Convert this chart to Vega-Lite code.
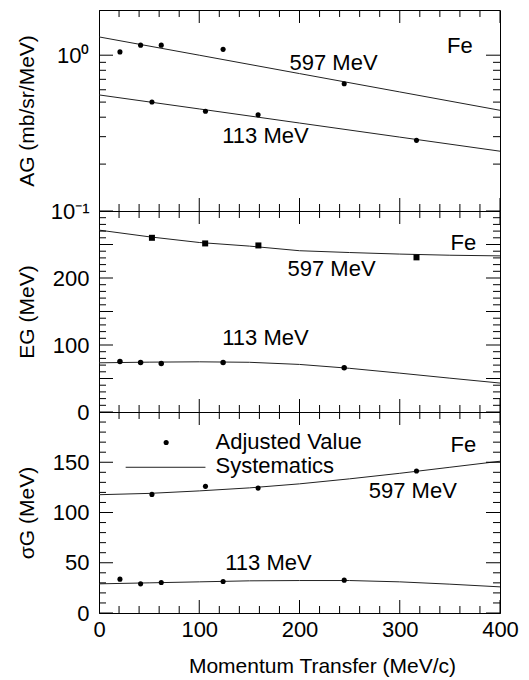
{
  "$schema": "https://vega.github.io/schema/vega-lite/v6.json",
  "padding": {"left": 15, "top": 9, "right": 5, "bottom": 5},
  "spacing": 0,
  "bounds": "flush",
  "config": {
    "font": "Liberation Sans",
    "view": {"stroke": "black", "strokeWidth": 1},
    "axis": {
      "grid": false,
      "domainColor": "black",
      "labelColor": "black",
      "titleColor": "black",
      "labelFont": "Liberation Sans",
      "titleFont": "Liberation Sans",
      "labelFontSize": 22,
      "titleFontSize": 21,
      "titleFontWeight": "normal",
      "labelFlush": false,
      "labelOverlap": false
    },
    "text": {"font": "Liberation Sans", "fontSize": 22, "color": "black"},
    "tick": {"color": "black", "thickness": 1, "opacity": 1}
  },
  "datasets": {
    "A_tx": [
      {"q": 0, "v": 0.1, "k": "major"}, {"q": 0, "v": 1.95, "k": "major"},
      {"q": 20, "v": 0.1, "k": "minor"}, {"q": 20, "v": 1.95, "k": "minor"},
      {"q": 40, "v": 0.1, "k": "minor"}, {"q": 40, "v": 1.95, "k": "minor"},
      {"q": 60, "v": 0.1, "k": "minor"}, {"q": 60, "v": 1.95, "k": "minor"},
      {"q": 80, "v": 0.1, "k": "minor"}, {"q": 80, "v": 1.95, "k": "minor"},
      {"q": 100, "v": 0.1, "k": "major"}, {"q": 100, "v": 1.95, "k": "major"},
      {"q": 120, "v": 0.1, "k": "minor"}, {"q": 120, "v": 1.95, "k": "minor"},
      {"q": 140, "v": 0.1, "k": "minor"}, {"q": 140, "v": 1.95, "k": "minor"},
      {"q": 160, "v": 0.1, "k": "minor"}, {"q": 160, "v": 1.95, "k": "minor"},
      {"q": 180, "v": 0.1, "k": "minor"}, {"q": 180, "v": 1.95, "k": "minor"},
      {"q": 200, "v": 0.1, "k": "major"}, {"q": 200, "v": 1.95, "k": "major"},
      {"q": 220, "v": 0.1, "k": "minor"}, {"q": 220, "v": 1.95, "k": "minor"},
      {"q": 240, "v": 0.1, "k": "minor"}, {"q": 240, "v": 1.95, "k": "minor"},
      {"q": 260, "v": 0.1, "k": "minor"}, {"q": 260, "v": 1.95, "k": "minor"},
      {"q": 280, "v": 0.1, "k": "minor"}, {"q": 280, "v": 1.95, "k": "minor"},
      {"q": 300, "v": 0.1, "k": "major"}, {"q": 300, "v": 1.95, "k": "major"},
      {"q": 320, "v": 0.1, "k": "minor"}, {"q": 320, "v": 1.95, "k": "minor"},
      {"q": 340, "v": 0.1, "k": "minor"}, {"q": 340, "v": 1.95, "k": "minor"},
      {"q": 360, "v": 0.1, "k": "minor"}, {"q": 360, "v": 1.95, "k": "minor"},
      {"q": 380, "v": 0.1, "k": "minor"}, {"q": 380, "v": 1.95, "k": "minor"},
      {"q": 400, "v": 0.1, "k": "major"}, {"q": 400, "v": 1.95, "k": "major"}
    ],
    "A_ty": [
      {"q": 0, "v": 0.1, "k": "major"}, {"q": 400, "v": 0.1, "k": "major"},
      {"q": 0, "v": 0.2, "k": "minor"}, {"q": 400, "v": 0.2, "k": "minor"},
      {"q": 0, "v": 0.3, "k": "minor"}, {"q": 400, "v": 0.3, "k": "minor"},
      {"q": 0, "v": 0.4, "k": "minor"}, {"q": 400, "v": 0.4, "k": "minor"},
      {"q": 0, "v": 0.5, "k": "minor"}, {"q": 400, "v": 0.5, "k": "minor"},
      {"q": 0, "v": 0.6, "k": "minor"}, {"q": 400, "v": 0.6, "k": "minor"},
      {"q": 0, "v": 0.7, "k": "minor"}, {"q": 400, "v": 0.7, "k": "minor"},
      {"q": 0, "v": 0.8, "k": "minor"}, {"q": 400, "v": 0.8, "k": "minor"},
      {"q": 0, "v": 0.9, "k": "minor"}, {"q": 400, "v": 0.9, "k": "minor"},
      {"q": 0, "v": 1, "k": "major"}, {"q": 400, "v": 1, "k": "major"}
    ],
    "E_tx": [
      {"q": 0, "v": 0, "k": "major"}, {"q": 0, "v": 300, "k": "major"},
      {"q": 20, "v": 0, "k": "minor"}, {"q": 20, "v": 300, "k": "minor"},
      {"q": 40, "v": 0, "k": "minor"}, {"q": 40, "v": 300, "k": "minor"},
      {"q": 60, "v": 0, "k": "minor"}, {"q": 60, "v": 300, "k": "minor"},
      {"q": 80, "v": 0, "k": "minor"}, {"q": 80, "v": 300, "k": "minor"},
      {"q": 100, "v": 0, "k": "major"}, {"q": 100, "v": 300, "k": "major"},
      {"q": 120, "v": 0, "k": "minor"}, {"q": 120, "v": 300, "k": "minor"},
      {"q": 140, "v": 0, "k": "minor"}, {"q": 140, "v": 300, "k": "minor"},
      {"q": 160, "v": 0, "k": "minor"}, {"q": 160, "v": 300, "k": "minor"},
      {"q": 180, "v": 0, "k": "minor"}, {"q": 180, "v": 300, "k": "minor"},
      {"q": 200, "v": 0, "k": "major"}, {"q": 200, "v": 300, "k": "major"},
      {"q": 220, "v": 0, "k": "minor"}, {"q": 220, "v": 300, "k": "minor"},
      {"q": 240, "v": 0, "k": "minor"}, {"q": 240, "v": 300, "k": "minor"},
      {"q": 260, "v": 0, "k": "minor"}, {"q": 260, "v": 300, "k": "minor"},
      {"q": 280, "v": 0, "k": "minor"}, {"q": 280, "v": 300, "k": "minor"},
      {"q": 300, "v": 0, "k": "major"}, {"q": 300, "v": 300, "k": "major"},
      {"q": 320, "v": 0, "k": "minor"}, {"q": 320, "v": 300, "k": "minor"},
      {"q": 340, "v": 0, "k": "minor"}, {"q": 340, "v": 300, "k": "minor"},
      {"q": 360, "v": 0, "k": "minor"}, {"q": 360, "v": 300, "k": "minor"},
      {"q": 380, "v": 0, "k": "minor"}, {"q": 380, "v": 300, "k": "minor"},
      {"q": 400, "v": 0, "k": "major"}, {"q": 400, "v": 300, "k": "major"}
    ],
    "E_ty": [
      {"q": 0, "v": 0, "k": "major"}, {"q": 400, "v": 0, "k": "major"},
      {"q": 0, "v": 10, "k": "minor"}, {"q": 400, "v": 10, "k": "minor"},
      {"q": 0, "v": 20, "k": "minor"}, {"q": 400, "v": 20, "k": "minor"},
      {"q": 0, "v": 30, "k": "minor"}, {"q": 400, "v": 30, "k": "minor"},
      {"q": 0, "v": 40, "k": "minor"}, {"q": 400, "v": 40, "k": "minor"},
      {"q": 0, "v": 50, "k": "major"}, {"q": 400, "v": 50, "k": "major"},
      {"q": 0, "v": 60, "k": "minor"}, {"q": 400, "v": 60, "k": "minor"},
      {"q": 0, "v": 70, "k": "minor"}, {"q": 400, "v": 70, "k": "minor"},
      {"q": 0, "v": 80, "k": "minor"}, {"q": 400, "v": 80, "k": "minor"},
      {"q": 0, "v": 90, "k": "minor"}, {"q": 400, "v": 90, "k": "minor"},
      {"q": 0, "v": 100, "k": "major"}, {"q": 400, "v": 100, "k": "major"},
      {"q": 0, "v": 110, "k": "minor"}, {"q": 400, "v": 110, "k": "minor"},
      {"q": 0, "v": 120, "k": "minor"}, {"q": 400, "v": 120, "k": "minor"},
      {"q": 0, "v": 130, "k": "minor"}, {"q": 400, "v": 130, "k": "minor"},
      {"q": 0, "v": 140, "k": "minor"}, {"q": 400, "v": 140, "k": "minor"},
      {"q": 0, "v": 150, "k": "major"}, {"q": 400, "v": 150, "k": "major"},
      {"q": 0, "v": 160, "k": "minor"}, {"q": 400, "v": 160, "k": "minor"},
      {"q": 0, "v": 170, "k": "minor"}, {"q": 400, "v": 170, "k": "minor"},
      {"q": 0, "v": 180, "k": "minor"}, {"q": 400, "v": 180, "k": "minor"},
      {"q": 0, "v": 190, "k": "minor"}, {"q": 400, "v": 190, "k": "minor"},
      {"q": 0, "v": 200, "k": "major"}, {"q": 400, "v": 200, "k": "major"},
      {"q": 0, "v": 210, "k": "minor"}, {"q": 400, "v": 210, "k": "minor"},
      {"q": 0, "v": 220, "k": "minor"}, {"q": 400, "v": 220, "k": "minor"},
      {"q": 0, "v": 230, "k": "minor"}, {"q": 400, "v": 230, "k": "minor"},
      {"q": 0, "v": 240, "k": "minor"}, {"q": 400, "v": 240, "k": "minor"},
      {"q": 0, "v": 250, "k": "major"}, {"q": 400, "v": 250, "k": "major"},
      {"q": 0, "v": 260, "k": "minor"}, {"q": 400, "v": 260, "k": "minor"},
      {"q": 0, "v": 270, "k": "minor"}, {"q": 400, "v": 270, "k": "minor"},
      {"q": 0, "v": 280, "k": "minor"}, {"q": 400, "v": 280, "k": "minor"},
      {"q": 0, "v": 290, "k": "minor"}, {"q": 400, "v": 290, "k": "minor"},
      {"q": 0, "v": 300, "k": "major"}, {"q": 400, "v": 300, "k": "major"}
    ],
    "S_tx": [
      {"q": 0, "v": 0, "k": "major"}, {"q": 0, "v": 200, "k": "major"},
      {"q": 20, "v": 0, "k": "minor"}, {"q": 20, "v": 200, "k": "minor"},
      {"q": 40, "v": 0, "k": "minor"}, {"q": 40, "v": 200, "k": "minor"},
      {"q": 60, "v": 0, "k": "minor"}, {"q": 60, "v": 200, "k": "minor"},
      {"q": 80, "v": 0, "k": "minor"}, {"q": 80, "v": 200, "k": "minor"},
      {"q": 100, "v": 0, "k": "major"}, {"q": 100, "v": 200, "k": "major"},
      {"q": 120, "v": 0, "k": "minor"}, {"q": 120, "v": 200, "k": "minor"},
      {"q": 140, "v": 0, "k": "minor"}, {"q": 140, "v": 200, "k": "minor"},
      {"q": 160, "v": 0, "k": "minor"}, {"q": 160, "v": 200, "k": "minor"},
      {"q": 180, "v": 0, "k": "minor"}, {"q": 180, "v": 200, "k": "minor"},
      {"q": 200, "v": 0, "k": "major"}, {"q": 200, "v": 200, "k": "major"},
      {"q": 220, "v": 0, "k": "minor"}, {"q": 220, "v": 200, "k": "minor"},
      {"q": 240, "v": 0, "k": "minor"}, {"q": 240, "v": 200, "k": "minor"},
      {"q": 260, "v": 0, "k": "minor"}, {"q": 260, "v": 200, "k": "minor"},
      {"q": 280, "v": 0, "k": "minor"}, {"q": 280, "v": 200, "k": "minor"},
      {"q": 300, "v": 0, "k": "major"}, {"q": 300, "v": 200, "k": "major"},
      {"q": 320, "v": 0, "k": "minor"}, {"q": 320, "v": 200, "k": "minor"},
      {"q": 340, "v": 0, "k": "minor"}, {"q": 340, "v": 200, "k": "minor"},
      {"q": 360, "v": 0, "k": "minor"}, {"q": 360, "v": 200, "k": "minor"},
      {"q": 380, "v": 0, "k": "minor"}, {"q": 380, "v": 200, "k": "minor"},
      {"q": 400, "v": 0, "k": "major"}, {"q": 400, "v": 200, "k": "major"}
    ],
    "S_ty": [
      {"q": 0, "v": 0, "k": "major"}, {"q": 400, "v": 0, "k": "major"},
      {"q": 0, "v": 10, "k": "minor"}, {"q": 400, "v": 10, "k": "minor"},
      {"q": 0, "v": 20, "k": "minor"}, {"q": 400, "v": 20, "k": "minor"},
      {"q": 0, "v": 30, "k": "minor"}, {"q": 400, "v": 30, "k": "minor"},
      {"q": 0, "v": 40, "k": "minor"}, {"q": 400, "v": 40, "k": "minor"},
      {"q": 0, "v": 50, "k": "major"}, {"q": 400, "v": 50, "k": "major"},
      {"q": 0, "v": 60, "k": "minor"}, {"q": 400, "v": 60, "k": "minor"},
      {"q": 0, "v": 70, "k": "minor"}, {"q": 400, "v": 70, "k": "minor"},
      {"q": 0, "v": 80, "k": "minor"}, {"q": 400, "v": 80, "k": "minor"},
      {"q": 0, "v": 90, "k": "minor"}, {"q": 400, "v": 90, "k": "minor"},
      {"q": 0, "v": 100, "k": "major"}, {"q": 400, "v": 100, "k": "major"},
      {"q": 0, "v": 110, "k": "minor"}, {"q": 400, "v": 110, "k": "minor"},
      {"q": 0, "v": 120, "k": "minor"}, {"q": 400, "v": 120, "k": "minor"},
      {"q": 0, "v": 130, "k": "minor"}, {"q": 400, "v": 130, "k": "minor"},
      {"q": 0, "v": 140, "k": "minor"}, {"q": 400, "v": 140, "k": "minor"},
      {"q": 0, "v": 150, "k": "major"}, {"q": 400, "v": 150, "k": "major"},
      {"q": 0, "v": 160, "k": "minor"}, {"q": 400, "v": 160, "k": "minor"},
      {"q": 0, "v": 170, "k": "minor"}, {"q": 400, "v": 170, "k": "minor"},
      {"q": 0, "v": 180, "k": "minor"}, {"q": 400, "v": 180, "k": "minor"},
      {"q": 0, "v": 190, "k": "minor"}, {"q": 400, "v": 190, "k": "minor"},
      {"q": 0, "v": 200, "k": "major"}, {"q": 400, "v": 200, "k": "major"}
    ],
    "A_pts": [
      {"q": 20.9, "v": 1.05, "e": "597"}, {"q": 41.5, "v": 1.16, "e": "597"}, {"q": 62.1, "v": 1.16, "e": "597"}, {"q": 123.8, "v": 1.09, "e": "597"}, {"q": 244.6, "v": 0.655, "e": "597"},
      {"q": 52.8, "v": 0.501, "e": "113"}, {"q": 106.2, "v": 0.437, "e": "113"}, {"q": 158.7, "v": 0.414, "e": "113"}, {"q": 316.7, "v": 0.284, "e": "113"}
    ],
    "A_fit": [
      {"q": 0, "v": 1.31, "e": "597"}, {"q": 100, "v": 1.0, "e": "597"}, {"q": 200, "v": 0.762, "e": "597"}, {"q": 300, "v": 0.581, "e": "597"}, {"q": 400, "v": 0.443, "e": "597"},
      {"q": 0, "v": 0.556, "e": "113"}, {"q": 100, "v": 0.452, "e": "113"}, {"q": 200, "v": 0.367, "e": "113"}, {"q": 300, "v": 0.298, "e": "113"}, {"q": 400, "v": 0.242, "e": "113"}
    ],
    "A_lab": [
      {"q": 234, "v": 0.897, "t": "597 MeV"}, {"q": 166, "v": 0.303, "t": "113 MeV"}, {"q": 360, "v": 1.148, "t": "Fe"}
    ],
    "E_pts": [
      {"q": 52.8, "v": 260, "e": "597"}, {"q": 105.9, "v": 251.6, "e": "597"}, {"q": 159, "v": 248.6, "e": "597"}, {"q": 316.7, "v": 230.8, "e": "597"},
      {"q": 20.9, "v": 75.4, "e": "113"}, {"q": 41.5, "v": 73.9, "e": "113"}, {"q": 62.1, "v": 72.5, "e": "113"}, {"q": 123.8, "v": 73.9, "e": "113"}, {"q": 244.6, "v": 66, "e": "113"}
    ],
    "E_fit": [
      {"q": 0, "v": 271.5, "e": "597"}, {"q": 50, "v": 261.5, "e": "597"}, {"q": 100, "v": 253, "e": "597"}, {"q": 150, "v": 247.6, "e": "597"}, {"q": 200, "v": 240.7, "e": "597"}, {"q": 250, "v": 238, "e": "597"}, {"q": 300, "v": 235.7, "e": "597"}, {"q": 350, "v": 234, "e": "597"}, {"q": 400, "v": 233, "e": "597"},
      {"q": 0, "v": 73.4, "e": "113"}, {"q": 50, "v": 74.4, "e": "113"}, {"q": 100, "v": 74.9, "e": "113"}, {"q": 150, "v": 74.2, "e": "113"}, {"q": 200, "v": 71, "e": "113"}, {"q": 250, "v": 65.2, "e": "113"}, {"q": 300, "v": 58, "e": "113"}, {"q": 350, "v": 50.5, "e": "113"}, {"q": 400, "v": 43.2, "e": "113"}
    ],
    "E_lab": [
      {"q": 232, "v": 213.4, "t": "597 MeV"}, {"q": 166, "v": 110.7, "t": "113 MeV"}, {"q": 363.5, "v": 251.6, "t": "Fe"}
    ],
    "S_pts": [
      {"q": 52.8, "v": 118, "e": "597"}, {"q": 106.2, "v": 126, "e": "597"}, {"q": 158.7, "v": 124.3, "e": "597"}, {"q": 316.7, "v": 141.3, "e": "597"},
      {"q": 20.9, "v": 33.7, "e": "113"}, {"q": 41.5, "v": 29, "e": "113"}, {"q": 62.1, "v": 30.3, "e": "113"}, {"q": 123.8, "v": 31.3, "e": "113"}, {"q": 244.6, "v": 32.7, "e": "113"},
      {"q": 67, "v": 169.7, "e": "legend"}
    ],
    "S_fit": [
      {"q": 0, "v": 117.7, "e": "597"}, {"q": 50, "v": 119, "e": "597"}, {"q": 100, "v": 121.5, "e": "597"}, {"q": 150, "v": 124.5, "e": "597"}, {"q": 200, "v": 128.5, "e": "597"}, {"q": 250, "v": 133.5, "e": "597"}, {"q": 300, "v": 139, "e": "597"}, {"q": 350, "v": 145, "e": "597"}, {"q": 400, "v": 151, "e": "597"},
      {"q": 0, "v": 29, "e": "113"}, {"q": 50, "v": 30, "e": "113"}, {"q": 100, "v": 31, "e": "113"}, {"q": 150, "v": 32, "e": "113"}, {"q": 200, "v": 32.3, "e": "113"}, {"q": 250, "v": 32.3, "e": "113"}, {"q": 300, "v": 31, "e": "113"}, {"q": 350, "v": 28.7, "e": "113"}, {"q": 400, "v": 26, "e": "113"},
      {"q": 26.6, "v": 145, "e": "legend"}, {"q": 106.2, "v": 145, "e": "legend"}
    ],
    "S_lab": [
      {"q": 313, "v": 121.7, "t": "597 MeV"}, {"q": 169, "v": 49.3, "t": "113 MeV"}, {"q": 363.5, "v": 166.7, "t": "Fe"}
    ],
    "S_leg": [
      {"q": 116.2, "v": 169.7, "t": "Adjusted Value"}, {"q": 116.2, "v": 146.7, "t": "Systematics"}
    ]
  },
  "vconcat": [
    {
      "width": 401, "height": 201,
      "layer": [
        {
          "data": {"name": "A_fit"},
          "mark": {"type": "line", "color": "#222", "strokeWidth": 1},
          "encoding": {
            "x": {"field": "q", "type": "quantitative", "scale": {"domain": [0, 400], "nice": false},
              "axis": {"orient": "bottom", "ticks": false, "tickSize": 0, "labels": false, "title": null}},
            "y": {"field": "v", "type": "quantitative", "scale": {"type": "log", "domain": [0.1, 1.95], "nice": false},
              "axis": {"orient": "left", "values": [0.1, 1], "ticks": false, "tickSize": 0, "title": "AG (mb/sr/MeV)",
                "labelExpr": "datum.value === 1 ? '10⁰' : '10⁻¹'",
                "labelPadding": 10, "titleX": -62, "titleBaseline": "bottom"}},
            "detail": {"field": "e"},
            "order": {"field": "q", "type": "quantitative"}
          }
        },
        {
          "data": {"name": "A_pts"},
          "mark": {"type": "circle", "color": "black", "opacity": 1, "size": 26},
          "encoding": {"x": {"field": "q", "type": "quantitative"}, "y": {"field": "v", "type": "quantitative"}}
        },
        {"data": {"name": "A_tx"}, "transform": [{"filter": "datum.k === 'major'"}],
          "mark": {"type": "tick", "orient": "vertical", "clip": true},
          "encoding": {"x": {"field": "q", "type": "quantitative"}, "y": {"field": "v", "type": "quantitative"}, "size": {"value": 26}}},
        {"data": {"name": "A_tx"}, "transform": [{"filter": "datum.k === 'minor'"}],
          "mark": {"type": "tick", "orient": "vertical", "clip": true},
          "encoding": {"x": {"field": "q", "type": "quantitative"}, "y": {"field": "v", "type": "quantitative"}, "size": {"value": 14}}},
        {"data": {"name": "A_ty"}, "transform": [{"filter": "datum.k === 'major'"}],
          "mark": {"type": "tick", "orient": "horizontal", "clip": true},
          "encoding": {"x": {"field": "q", "type": "quantitative"}, "y": {"field": "v", "type": "quantitative"}, "size": {"value": 28}}},
        {"data": {"name": "A_ty"}, "transform": [{"filter": "datum.k === 'minor'"}],
          "mark": {"type": "tick", "orient": "horizontal", "clip": true},
          "encoding": {"x": {"field": "q", "type": "quantitative"}, "y": {"field": "v", "type": "quantitative"}, "size": {"value": 14}}},
        {
          "data": {"name": "A_lab"},
          "mark": {"type": "text", "align": "center", "baseline": "middle"},
          "encoding": {"x": {"field": "q", "type": "quantitative"}, "y": {"field": "v", "type": "quantitative"}, "text": {"field": "t"}}
        }
      ]
    },
    {
      "width": 401, "height": 201,
      "layer": [
        {
          "data": {"name": "E_fit"},
          "mark": {"type": "line", "color": "#222", "strokeWidth": 1},
          "encoding": {
            "x": {"field": "q", "type": "quantitative", "scale": {"domain": [0, 400], "nice": false},
              "axis": {"orient": "bottom", "ticks": false, "tickSize": 0, "labels": false, "title": null}},
            "y": {"field": "v", "type": "quantitative", "scale": {"domain": [0, 300], "nice": false},
              "axis": {"orient": "left", "values": [0, 100, 200], "ticks": false, "tickSize": 0, "title": "EG (MeV)",
                "labelPadding": 10, "titleX": -62, "titleBaseline": "bottom"}},
            "detail": {"field": "e"},
            "order": {"field": "q", "type": "quantitative"}
          }
        },
        {
          "data": {"name": "E_pts"},
          "mark": {"type": "point", "filled": true, "color": "black", "opacity": 1},
          "encoding": {
            "x": {"field": "q", "type": "quantitative"},
            "y": {"field": "v", "type": "quantitative"},
            "shape": {"field": "e", "type": "nominal", "scale": {"domain": ["597", "113"], "range": ["square", "circle"]}, "legend": null},
            "size": {"field": "e", "type": "nominal", "scale": {"domain": ["597", "113"], "range": [36, 30]}, "legend": null}
          }
        },
        {"data": {"name": "E_tx"}, "transform": [{"filter": "datum.k === 'major'"}],
          "mark": {"type": "tick", "orient": "vertical", "clip": true},
          "encoding": {"x": {"field": "q", "type": "quantitative"}, "y": {"field": "v", "type": "quantitative"}, "size": {"value": 26}}},
        {"data": {"name": "E_tx"}, "transform": [{"filter": "datum.k === 'minor'"}],
          "mark": {"type": "tick", "orient": "vertical", "clip": true},
          "encoding": {"x": {"field": "q", "type": "quantitative"}, "y": {"field": "v", "type": "quantitative"}, "size": {"value": 14}}},
        {"data": {"name": "E_ty"}, "transform": [{"filter": "datum.k === 'major'"}],
          "mark": {"type": "tick", "orient": "horizontal", "clip": true},
          "encoding": {"x": {"field": "q", "type": "quantitative"}, "y": {"field": "v", "type": "quantitative"}, "size": {"value": 28}}},
        {"data": {"name": "E_ty"}, "transform": [{"filter": "datum.k === 'minor'"}],
          "mark": {"type": "tick", "orient": "horizontal", "clip": true},
          "encoding": {"x": {"field": "q", "type": "quantitative"}, "y": {"field": "v", "type": "quantitative"}, "size": {"value": 14}}},
        {
          "data": {"name": "E_lab"},
          "mark": {"type": "text", "align": "center", "baseline": "middle"},
          "encoding": {"x": {"field": "q", "type": "quantitative"}, "y": {"field": "v", "type": "quantitative"}, "text": {"field": "t"}}
        }
      ]
    },
    {
      "width": 401, "height": 201,
      "layer": [
        {
          "data": {"name": "S_fit"},
          "mark": {"type": "line", "color": "#222", "strokeWidth": 1},
          "encoding": {
            "x": {"field": "q", "type": "quantitative", "scale": {"domain": [0, 400], "nice": false},
              "axis": {"orient": "bottom", "values": [0,100,200,300,400], "ticks": false, "tickSize": 0, "title": "Momentum Transfer (MeV/c)",
                "labelPadding": 6, "titleX": 223, "titleY": 59, "titleBaseline": "alphabetic"}},
            "y": {"field": "v", "type": "quantitative", "scale": {"domain": [0, 200], "nice": false},
              "axis": {"orient": "left", "values": [0, 50, 100, 150], "ticks": false, "tickSize": 0, "title": "σG (MeV)",
                "labelPadding": 10, "titleX": -62, "titleBaseline": "bottom"}},
            "detail": {"field": "e"},
            "order": {"field": "q", "type": "quantitative"}
          }
        },
        {
          "data": {"name": "S_pts"},
          "mark": {"type": "circle", "color": "black", "opacity": 1, "size": 26},
          "encoding": {"x": {"field": "q", "type": "quantitative"}, "y": {"field": "v", "type": "quantitative"}}
        },
        {"data": {"name": "S_tx"}, "transform": [{"filter": "datum.k === 'major'"}],
          "mark": {"type": "tick", "orient": "vertical", "clip": true},
          "encoding": {"x": {"field": "q", "type": "quantitative"}, "y": {"field": "v", "type": "quantitative"}, "size": {"value": 26}}},
        {"data": {"name": "S_tx"}, "transform": [{"filter": "datum.k === 'minor'"}],
          "mark": {"type": "tick", "orient": "vertical", "clip": true},
          "encoding": {"x": {"field": "q", "type": "quantitative"}, "y": {"field": "v", "type": "quantitative"}, "size": {"value": 14}}},
        {"data": {"name": "S_ty"}, "transform": [{"filter": "datum.k === 'major'"}],
          "mark": {"type": "tick", "orient": "horizontal", "clip": true},
          "encoding": {"x": {"field": "q", "type": "quantitative"}, "y": {"field": "v", "type": "quantitative"}, "size": {"value": 28}}},
        {"data": {"name": "S_ty"}, "transform": [{"filter": "datum.k === 'minor'"}],
          "mark": {"type": "tick", "orient": "horizontal", "clip": true},
          "encoding": {"x": {"field": "q", "type": "quantitative"}, "y": {"field": "v", "type": "quantitative"}, "size": {"value": 14}}},
        {
          "data": {"name": "S_lab"},
          "mark": {"type": "text", "align": "center", "baseline": "middle"},
          "encoding": {"x": {"field": "q", "type": "quantitative"}, "y": {"field": "v", "type": "quantitative"}, "text": {"field": "t"}}
        },
        {
          "data": {"name": "S_leg"},
          "mark": {"type": "text", "align": "left", "baseline": "middle"},
          "encoding": {"x": {"field": "q", "type": "quantitative"}, "y": {"field": "v", "type": "quantitative"}, "text": {"field": "t"}}
        }
      ]
    }
  ]
}
